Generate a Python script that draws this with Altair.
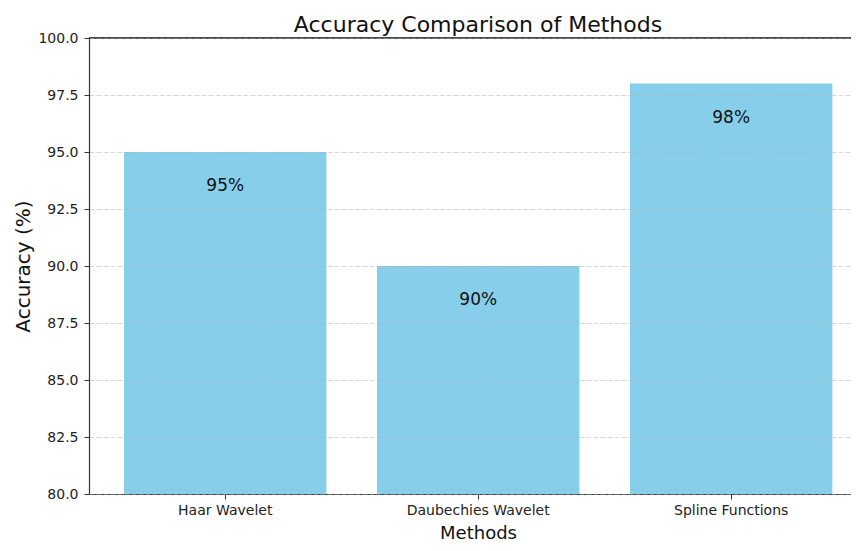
import altair as alt
import pandas as pd

methods = ["Haar Wavelet", "Daubechies Wavelet", "Spline Functions"]
accuracy = [95, 90, 98]
labels = ["95%", "90%", "98%"]
label_pos = [93.5, 88.5, 96.5]
y_ticks = [80, 82.5, 85, 87.5, 90, 92.5, 95, 97.5, 100]

df = pd.DataFrame({"Method": methods, "Accuracy": accuracy, "Label": labels, "LabelY": label_pos})

FONT = "DejaVu Sans"
AX = "#333333"

x_enc = alt.X(
    "Method:N",
    sort=methods,
    scale=alt.Scale(paddingInner=0.2, paddingOuter=0.106, align=0.653),
    axis=alt.Axis(
        title="Methods", labelAngle=0, labelFontSize=14, titleFontSize=18,
        titleFontWeight="normal", labelColor="#222", titleColor="#111",
        tickSize=5, labelPadding=4, titleY=44, titleBaseline="alphabetic",
        titleX=389, domainColor=AX, tickColor=AX, domainWidth=1.2,
    ),
)

y_scale = alt.Scale(domain=[80, 100], nice=False, clamp=True)

bars = alt.Chart(df).mark_bar(color="#87CEEB").encode(
    x=x_enc,
    y=alt.Y(
        "Accuracy:Q",
        scale=y_scale,
        axis=alt.Axis(
            title="Accuracy (%)", values=y_ticks,
            format=".1f", labelFontSize=14, titleFontSize=20, titleFontWeight="normal",
            labelColor="#222", titleColor="#111", tickSize=5, labelPadding=6,
            grid=True, gridColor="#b0b0b0", gridOpacity=0.5, gridDash=[5, 2],
            titleX=-60, titleBaseline="alphabetic",
            domainColor=AX, tickColor=AX, domainWidth=1.2, zindex=1,
        ),
    ),
    y2=alt.datum(80),
)

top_spine = alt.Chart(df).mark_rule(color=AX, strokeWidth=1.2).encode(
    y=alt.datum(100, scale=y_scale)
)

text = alt.Chart(df).mark_text(fontSize=17, color="#111", font=FONT, baseline="middle").encode(
    x=alt.X("Method:N", sort=methods),
    y=alt.Y("LabelY:Q"),
    text="Label:N",
)

chart = (
    alt.layer(bars, text, top_spine)
    .properties(
        width=762, height=456,
        title=alt.TitleParams("Accuracy Comparison of Methods", fontSize=22, fontWeight="normal",
                              font=FONT, color="#111", offset=-6, dx=8),
        autosize=alt.AutoSizeParams(type="none"),
        padding={"left": 81, "top": 30, "right": 0, "bottom": 49},
    )
    .configure(font=FONT)
    .configure_view(stroke=None)
)

chart.save("out.html", embed_options={"renderer": "svg", "actions": False})
